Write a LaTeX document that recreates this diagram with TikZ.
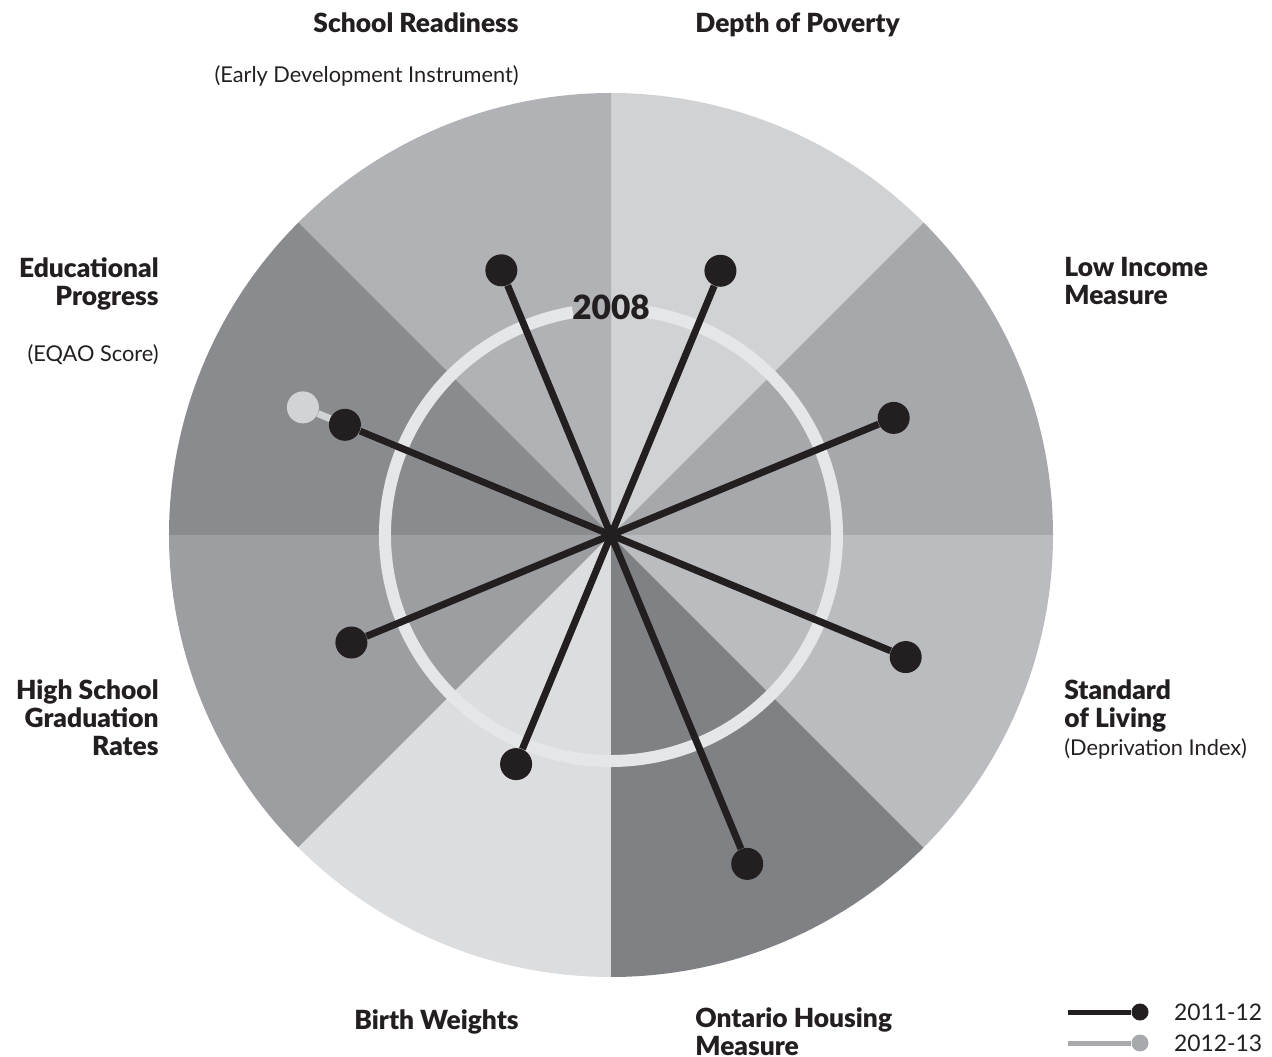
\documentclass[tikz,border=0pt]{standalone}
\usepackage{fontspec}
\setmainfont{Lato}[BoldFont={Lato Black}]
\usepackage{tikz}
\usetikzlibrary{positioning}
\usepackage{xcolor}
\definecolor{ink}{HTML}{231F20}
\definecolor{ringgray}{HTML}{E5E6E8}
\definecolor{latergray}{HTML}{D1D3D4}
\definecolor{legendgray}{HTML}{A7A9AC}
\definecolor{srgray}{HTML}{B1B2B6}
\definecolor{dpgray}{HTML}{D1D2D4}
\definecolor{ligray}{HTML}{A7A8AC}
\definecolor{slgray}{HTML}{BBBCC0}
\definecolor{ohgray}{HTML}{808185}
\definecolor{bwgray}{HTML}{DCDDDF}
\definecolor{hsgray}{HTML}{9D9EA2}
\definecolor{epgray}{HTML}{8A8B8F}
\tikzset{%
  point/.style={circle, inner sep=0pt, minimum size=0.64cm},
  year point/.style={fill=ink, point},
  later point/.style={fill=latergray, point},
  key point/.style={circle, inner sep=0pt, minimum size=0.34cm},
  spoke/.style={draw=ink, line width=0.14cm},
  ring/.style={draw=ringgray, line width=0.24cm},
  label/.style={font=\bfseries\fontsize{15}{16}\selectfont, text=ink, inner sep=0pt},
  note/.style={font=\fontsize{12.4}{16}\selectfont, text=ink, inner sep=0pt}
}

\begin{document}
\begin{tikzpicture}
      \useasboundingbox (-12.22, -10.44) rectangle (13.22, 10.7);
      \coordinate (c) at (0, 0);

      % sectors
      \fill[ligray] (c) -- (0:8.84) arc [start angle=0, end angle=45, radius=8.84cm] -- cycle;
      \fill[dpgray] (c) -- (45:8.84) arc [start angle=45, end angle=90, radius=8.84cm] -- cycle;
      \fill[srgray] (c) -- (90:8.84) arc [start angle=90, end angle=135, radius=8.84cm] -- cycle;
      \fill[epgray] (c) -- (135:8.84) arc [start angle=135, end angle=180, radius=8.84cm] -- cycle;
      \fill[hsgray] (c) -- (180:8.84) arc [start angle=180, end angle=225, radius=8.84cm] -- cycle;
      \fill[bwgray] (c) -- (225:8.84) arc [start angle=225, end angle=270, radius=8.84cm] -- cycle;
      \fill[ohgray] (c) -- (270:8.84) arc [start angle=270, end angle=315, radius=8.84cm] -- cycle;
      \fill[slgray] (c) -- (315:8.84) arc [start angle=315, end angle=360, radius=8.84cm] -- cycle;

      % 2008 ring, open under the year
      \draw[ring] (99.7:4.52) arc [start angle=99.7, end angle=440.6, radius=4.52cm];
      \node[label, font=\bfseries\fontsize{19}{24}\selectfont] (year) at (0, 4.56) {2008};

      % later value
      \node[later point] (ep2) at (157.5:6.67) {};
      \draw[draw=latergray, line width=0.14cm] (c) -- (ep2);

      % spokes
      \node[year point] (sr) at (112.5:5.73) {};
      \node[year point] (dp) at (67.5:5.72) {};
      \node[year point] (li) at (22.5:6.12) {};
      \node[year point] (sl) at (-22.5:6.38) {};
      \node[year point] (oh) at (-67.5:7.12) {};
      \node[year point] (bw) at (-112.5:4.96) {};
      \node[year point] (hs) at (-157.5:5.62) {};
      \node[year point] (ep) at (157.5:5.76) {};
      \draw[spoke] (c) -- (sr);
      \draw[spoke] (c) -- (dp);
      \draw[spoke] (c) -- (li);
      \draw[spoke] (c) -- (sl);
      \draw[spoke] (c) -- (oh);
      \draw[spoke] (c) -- (bw);
      \draw[spoke] (c) -- (hs);
      \draw[spoke] (c) -- (ep);

      % labels
      \node[label, anchor=base east] (srl) at (-1.84, 10.04) {School Readiness};
      \node[note, anchor=base east] (srn) at (-1.84, 9.04) {(Early Development Instrument)};
      \node[label, anchor=base west] (dpl) at (1.68, 10.04) {Depth of Poverty};
      \node[label, anchor=north west, align=left] (lil) at (9.06, 5.56) {Low Income\\Measure};
      \node[label, anchor=north west, align=left] (sll) at (9.06, -2.88)
            {Standard\\of Living\\{\mdseries\fontsize{12.4}{16}\selectfont (Deprivation Index)}};
      \node[label, anchor=north west, align=left] (ohl) at (1.68, -9.44) {Ontario Housing\\Measure};
      \node[label, anchor=base east] (bwl) at (-1.84, -9.88) {Birth Weights};
      \node[label, anchor=north east, align=right] (hsl) at (-9.04, -2.88) {High School\\Graduation\\Rates};
      \node[label, anchor=north east, align=right] (epl) at (-9.04, 5.56) {Educational\\Progress};
      \node[note, anchor=base east] (epn) at (-9.04, 3.46) {(EQAO Score)};

      % key
      \coordinate (k1) at (9.14, -9.54);
      \coordinate (k2) at (9.14, -10.16);
      \node[key point, fill=ink] (d1) at (10.58, -9.54) {};
      \node[key point, fill=legendgray] (d2) at (10.58, -10.16) {};
      \draw[draw=ink, line width=0.1cm] (k1) -- (d1);
      \draw[draw=legendgray, line width=0.1cm] (k2) -- (d2);
      \node[note, font=\fontsize{13}{16}\selectfont, anchor=west, right=0.5cm of d1] (y1) {2011-12};
      \node[note, font=\fontsize{13}{16}\selectfont, anchor=west, right=0.5cm of d2] (y2) {2012-13};
\end{tikzpicture}
\end{document}
